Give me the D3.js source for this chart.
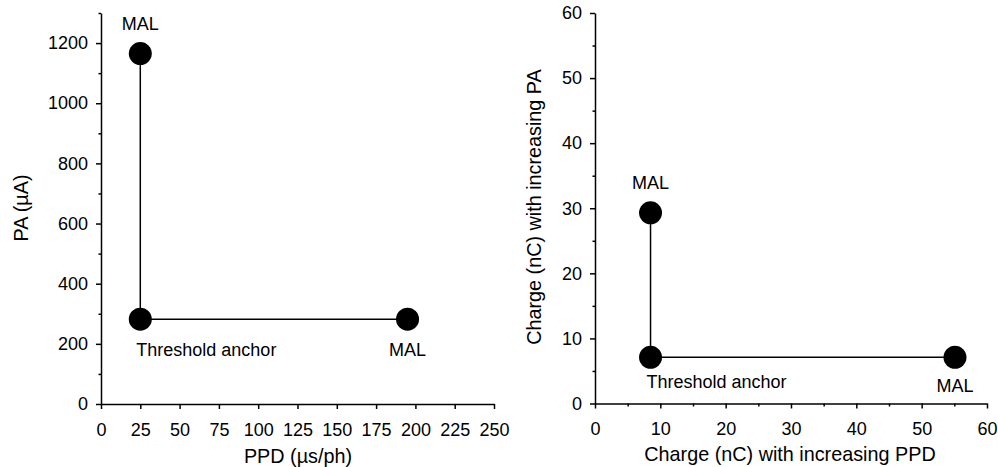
<!DOCTYPE html>
<html>
<head>
<meta charset="utf-8">
<script src="https://cdn.jsdelivr.net/npm/d3@7"></script>
<style>
  html, body { margin: 0; padding: 0; background: #fff; }
  svg { display: block; font-family: "Liberation Sans", Arial, sans-serif; }
  .axis path, .axis line { stroke: #000; stroke-width: 1.5px; }
  .axis text { font-size: 18px; fill: #000; }
  .title { font-size: 19.8px; fill: #000; }
  .note { font-size: 18px; fill: #000; }
</style>
</head>
<body>
<svg id="chart" width="998" height="467"></svg>
<script>
// Left panel: pulse amplitude vs pulse duration
const ppdValues = [25, 25, 195];          // µs/ph
const paValues = [282, 1165, 282];        // µA
const leftNames = ["Threshold anchor", "MAL", "MAL"];
const ppdTicks = [0, 25, 50, 75, 100, 125, 150, 175, 200, 225, 250];
const paTicks = [0, 200, 400, 600, 800, 1000, 1200];
const paMinor = [100, 300, 500, 700, 900, 1100, 1300];

// Right panel: charge along each direction
const chargePPD = [8.5, 8.5, 55.1];       // nC
const chargePA = [7.1, 29.3, 7.1];        // nC
const rightNames = ["Threshold anchor", "MAL", "MAL"];
const chargeTicks = [0, 10, 20, 30, 40, 50, 60];
const chargeMinor = [5, 15, 25, 35, 45, 55];

const svg = d3.select("#chart");

function panel(cfg) {
  const g = svg.append("g");
  const x = d3.scaleLinear().domain(cfg.xDomain).range(cfg.xRange);
  const y = d3.scaleLinear().domain(cfg.yDomain).range(cfg.yRange);

  // minor ticks
  if (cfg.xMinor) {
    g.append("g").attr("class", "axis")
      .attr("transform", `translate(0,${cfg.yRange[0]})`)
      .call(d3.axisBottom(x).tickValues(cfg.xMinor).tickSize(3).tickFormat(""))
      .call(s => s.select(".domain").remove());
  }
  g.append("g").attr("class", "axis")
    .attr("transform", `translate(${cfg.xRange[0]},0)`)
    .call(d3.axisLeft(y).tickValues(cfg.yMinor).tickSize(2.5).tickFormat(""))
    .call(s => s.select(".domain").remove());

  // major axes
  g.append("g").attr("class", "axis")
    .attr("transform", `translate(0,${cfg.yRange[0]})`)
    .call(d3.axisBottom(x).tickValues(cfg.xTicks).tickSize(5).tickSizeOuter(0).tickPadding(14).tickFormat(d3.format("d")));
  g.append("g").attr("class", "axis")
    .attr("transform", `translate(${cfg.xRange[0]},0)`)
    .call(d3.axisLeft(y).tickValues(cfg.yTicks).tickSize(5).tickSizeOuter(0).tickPadding(8).tickFormat(d3.format("d")));

  const pts = cfg.xs.map((v, i) => ({ x: v, y: cfg.ys[i], name: cfg.names[i] }));
  const anchor = pts[0];

  // connecting lines from the anchor to each limit point
  g.selectAll("line.link").data(pts.slice(1)).join("line")
    .attr("class", "link")
    .attr("x1", x(anchor.x)).attr("y1", y(anchor.y))
    .attr("x2", d => x(d.x)).attr("y2", d => y(d.y))
    .attr("stroke", "#000").attr("stroke-width", 1.5);

  g.selectAll("circle").data(pts).join("circle")
    .attr("cx", d => x(d.x)).attr("cy", d => y(d.y))
    .attr("r", 11.5).attr("fill", "#000");

  g.selectAll("text.note").data(pts).join("text")
    .attr("class", "note")
    .attr("x", (d, i) => i === 0 ? x(d.x) - 4 : x(d.x))
    .attr("y", (d, i) => i === 1 ? y(d.y) - 23.5 : y(d.y) + cfg.below[i === 0 ? 0 : 1])
    .attr("text-anchor", (d, i) => i === 0 ? "start" : "middle")
    .text(d => d.name);

  svg.append("text").attr("class", "title")
    .attr("x", cfg.xTitlePos[0]).attr("y", cfg.xTitlePos[1])
    .attr("text-anchor", "middle").text(cfg.xTitle);
  svg.append("text").attr("class", "title")
    .attr("transform", `translate(${cfg.yTitlePos[0]},${cfg.yTitlePos[1]}) rotate(-90)`)
    .attr("text-anchor", "middle").text(cfg.yTitle);
}

panel({
  xDomain: [0, 250], xRange: [101, 494],
  yDomain: [0, 1300], yRange: [404, 13],
  xTicks: ppdTicks, yTicks: paTicks, yMinor: paMinor,
  xs: ppdValues, ys: paValues, names: leftNames,
  below: [37, 37],
  xTitle: "PPD (\u00b5s/ph)", xTitlePos: [298, 463],
  yTitle: "PA (\u00b5A)", yTitlePos: [28, 208]
});

panel({
  xDomain: [0, 60], xRange: [595, 987],
  yDomain: [0, 60], yRange: [403.5, 13],
  xTicks: chargeTicks, xMinor: chargeMinor, yTicks: chargeTicks, yMinor: chargeMinor,
  xs: chargePPD, ys: chargePA, names: rightNames,
  below: [31, 35],
  xTitle: "Charge (nC) with increasing PPD", xTitlePos: [790, 461],
  yTitle: "Charge (nC) with increasing PA", yTitlePos: [541, 207]
});
</script>
</body>
</html>
